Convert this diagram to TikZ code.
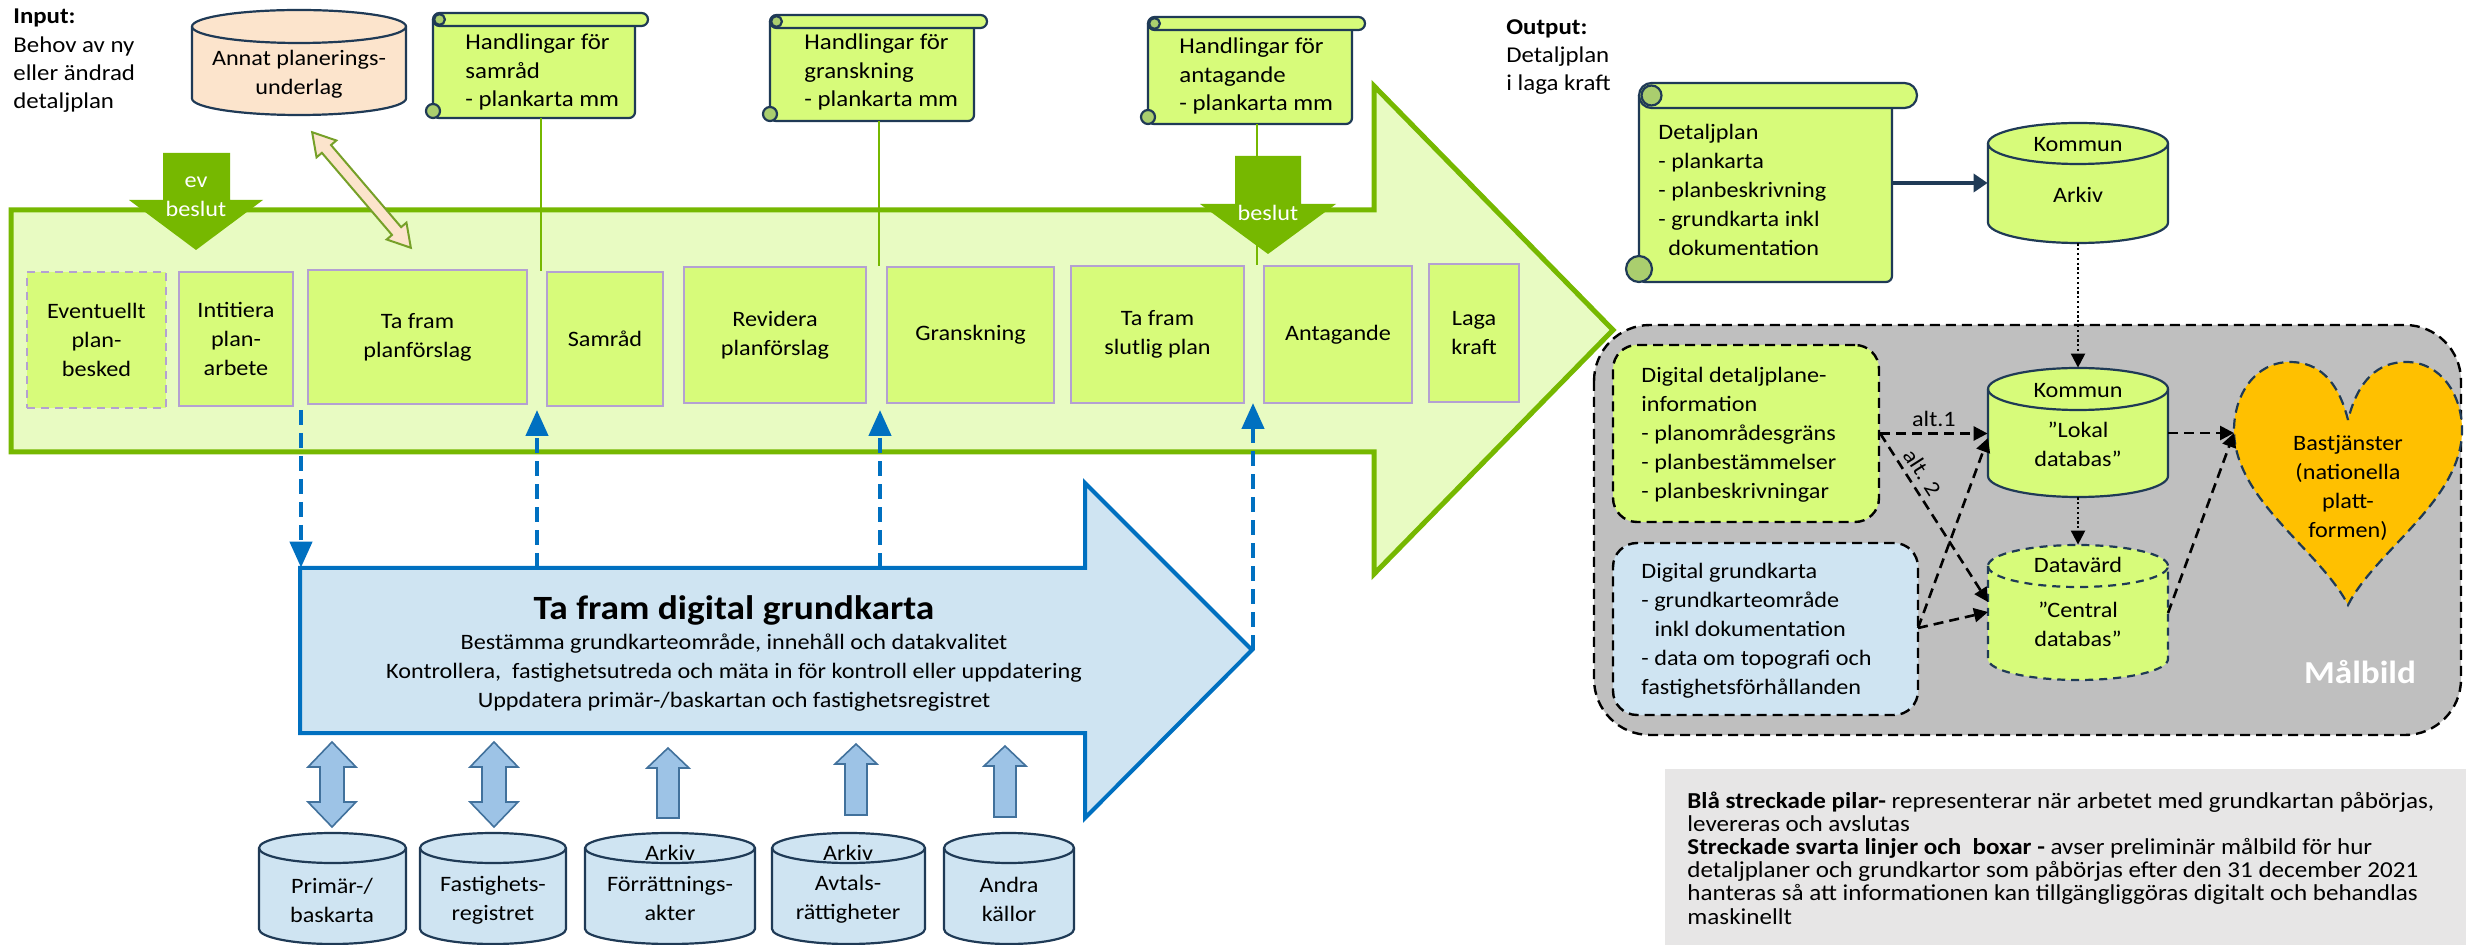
\documentclass[tikz,border=0pt]{standalone}
\usepackage{fontspec}
\setmainfont{Carlito}[FakeStretch=1.1]
\usetikzlibrary{arrows.meta}
\definecolor{cGreen}{RGB}{118,184,0}
\definecolor{cLight}{RGB}{232,251,194}
\definecolor{cLime}{RGB}{215,251,122}
\definecolor{cPurple}{RGB}{180,160,210}
\definecolor{cNavy}{RGB}{31,58,86}
\definecolor{cPeach}{RGB}{252,228,204}
\definecolor{cOlive}{RGB}{118,160,40}
\definecolor{cCurl}{RGB}{170,206,110}
\definecolor{cBlue}{RGB}{0,112,192}
\definecolor{cBlueLt}{RGB}{207,228,242}
\definecolor{cBlockF}{RGB}{157,195,230}
\definecolor{cBlockD}{RGB}{65,113,156}
\definecolor{cGray}{RGB}{191,191,191}
\definecolor{cOrange}{RGB}{255,192,0}
\definecolor{cLegend}{RGB}{231,230,230}

\newcommand\mycyl[7]{%
  \pgfmathsetmacro\cyrx{(#4-#2)/4}%
  \pgfmathsetmacro\cyry{#6/4}%
  \pgfmathsetmacro\cyyt{#3+#6/2}%
  \pgfmathsetmacro\cyyb{#5-#6/2}%
  \pgfmathsetmacro\cyw{(#4-#2)/2}%
  \pgfmathsetmacro\cyh{(#5-#3)/2}%
  \path[#7] (#2,\cyyt) -- (#2,\cyyb) arc[start angle=180,end angle=360,x radius=\cyrx pt,y radius=\cyry pt] -- (#4,\cyyt) arc[start angle=0,end angle=180,x radius=\cyrx pt,y radius=\cyry pt] -- cycle;
  \path[#7,fill=none] (#2,\cyyt) arc[start angle=180,end angle=360,x radius=\cyrx pt,y radius=\cyry pt];
  \node[inner sep=0pt,minimum width=\cyw pt,minimum height=\cyh pt] (#1) at ({(#2+#4)/2},{(#3+#5)/2}) {};
}
% name, x1, y1, x2, y2, bar height, curl radius (px)
\newcommand\myscroll[7]{%
  \pgfmathsetmacro\scrA{#3+#6/2}%
  \pgfmathsetmacro\scrB{#4-#6}%
  \pgfmathsetmacro\scrC{#5-#7}%
  \pgfmathsetmacro\scrR{#7/2}%
  \pgfmathsetmacro\scrQ{#6/4}%
  \pgfmathsetmacro\scrr{#7/2.6}%
  \pgfmathsetmacro\scrD{#2+#6/2}%
  \pgfmathsetmacro\scrW{(#4-#2)/2}%
  \pgfmathsetmacro\scrH{(#5-#3)/2}%
  \filldraw[scst,fill=cLime,rounded corners=3pt] (#2,\scrA) -- (#2,#5) -- (\scrB,#5) -- (\scrB,\scrA);
  \filldraw[scst,fill=cCurl] (#2,\scrC) circle[radius=\scrR pt];
  \filldraw[scst,fill=cLime,rounded corners=\scrQ pt] (#2,#3) rectangle (#4,{#3+#6});
  \filldraw[scst,fill=cCurl] (\scrD,\scrA) circle[radius=\scrr pt];
  \node[inner sep=0pt,minimum width=\scrW pt,minimum height=\scrH pt] (#1) at ({(#2+#4)/2},{(#3+#5)/2}) {};
}

\begin{document}
\begin{tikzpicture}[x=0.5pt,y=-0.5pt,
  t/.style={font=\fontsize{11}{14.5}\selectfont, inner sep=0pt, align=center},
  tl/.style={t, align=left, anchor=west},
  pbox/.style={t, draw=cPurple, fill=cLime, line width=1.3pt},
  cylst/.style={draw=cNavy, fill=cLime, line width=1.1pt},
  cylblue/.style={draw=cNavy, fill=cBlueLt, line width=1.1pt},
  scst/.style={draw=cNavy, line width=1.1pt},
  bdash/.style={draw=cBlue, line width=2.2pt, dash pattern=on 7.5pt off 4pt, -{Triangle[length=13pt,width=11pt]}},
  kdash/.style={draw=black, line width=1.3pt, dash pattern=on 5pt off 3pt, -{Triangle[length=7pt,width=7pt]}},
  kdot/.style={draw=black, line width=1.1pt, dash pattern=on 1.1pt off 1.3pt, -{Triangle[length=7pt,width=7pt]}},
  blockarr/.style={fill=cBlockF, draw=cBlockD, line width=0.8pt, line join=miter},
  gline/.style={draw=cGreen, line width=1pt},
  dbox/.style={draw=black, line width=1.2pt, dash pattern=on 5pt off 3pt, rounded corners=12pt, inner sep=0pt},
]
\fill[white] (0,0) rectangle (2466,945);
\useasboundingbox (0,0) rectangle (2466,945);

% ---------- input / output texts
\node[tl, font=\fontsize{11.3}{14.2}\selectfont] (input) at (13,61) {\textbf{Input:}\\Behov av ny\\eller ändrad\\detaljplan};
\node[tl, font=\fontsize{11.3}{14.2}\selectfont] (output) at (1506,57) {\textbf{Output:}\\Detaljplan\\i laga kraft};

% ---------- big green arrow
\draw[draw=cGreen, fill=cLight, line width=2.5pt, miter limit=10] (11,210) -- (1374,210) -- (1374,86) -- (1613,330) -- (1374,574) -- (1374,452) -- (11,452) -- cycle;

% ---------- top cylinder
\mycyl{annat}{192}{10}{406}{115}{33}{draw=cNavy, fill=cPeach, line width=1.1pt}
\node[t] (annatt) at (299,74) {Annat planerings-\\underlag};

% ---------- scrolls
\myscroll{s1}{433}{13}{648}{118}{13}{7}
\myscroll{s2}{770}{15}{987}{121}{13}{7}
\myscroll{s3}{1148}{17}{1365}{124}{13}{7}
\node[tl, font=\fontsize{11.3}{14.3}\selectfont] (s1t) at (465,72) {Handlingar för\\samråd\\- plankarta mm};
\node[tl, font=\fontsize{11.3}{14.3}\selectfont] (s2t) at (804,72) {Handlingar för\\granskning\\- plankarta mm};
\node[tl, font=\fontsize{11.3}{14.3}\selectfont] (s3t) at (1179,76) {Handlingar för\\antagande\\- plankarta mm};

% ---------- process boxes
\node[pbox, dash pattern=on 4pt off 3pt, minimum width=69.5pt, minimum height=68pt] (b1) at (96.5,340) {Eventuellt\\plan-\\besked};
\node[pbox, minimum width=57pt, minimum height=67pt] (b2) at (236,339) {Intitiera\\plan-\\arbete};
\node[pbox, minimum width=109.5pt, minimum height=67pt] (b3) at (417.5,337) {Ta fram\\planförslag};
\node[pbox, minimum width=58pt, minimum height=67pt] (b4) at (605,339) {Samråd};
\node[pbox, minimum width=91pt, minimum height=68pt] (b5) at (775,335) {Revidera\\planförslag};
\node[pbox, minimum width=83.5pt, minimum height=68pt] (b6) at (970.5,335) {Granskning};
\node[pbox, minimum width=86.5pt, minimum height=68.5pt] (b7) at (1157.5,334.5) {Ta fram\\slutlig plan};
\node[pbox, minimum width=74pt, minimum height=68.5pt] (b8) at (1338,334.5) {Antagande};
\node[pbox, minimum width=45pt, minimum height=69pt] (b9) at (1474,333) {Laga\\kraft};

% green lines from scrolls
\draw[gline] (s1.south) -- (s1.south |- b4.north);
\draw[gline] (s2.south) -- (s2.south |- b6.north);
\draw[gline] (s3.south) -- (s3.south |- b8.north);

% peach double arrow
\begin{scope}[shift={(361.5,190)}, rotate=-49.5]
\filldraw[fill=cPeach, draw=cOlive, line width=1pt, line join=miter] (-76,0) -- (-54,-13) -- (-54,-6) -- (54,-6) -- (54,-13) -- (76,0) -- (54,13) -- (54,6) -- (-54,6) -- (-54,13) -- cycle;
\end{scope}

% decision arrows
\fill[cGreen] (163,153) -- (230,153) -- (230,200) -- (263,200) -- (196,250) -- (129,200) -- (163,200) -- cycle;
\node[t, text=white] (evb) at (196,197) {ev\\beslut};
\fill[cGreen] (1235,156) -- (1301,156) -- (1301,204) -- (1336,204) -- (1268,254) -- (1200,204) -- (1235,204) -- cycle;
\node[t, text=white] (bes) at (1268,213) {beslut};

% ---------- big blue arrow
\draw[draw=cBlue, fill=cBlueLt, line width=2pt, miter limit=10] (300,568) -- (1085,568) -- (1085,483) -- (1252,650) -- (1085,818) -- (1085,733) -- (300,733) -- cycle;
\node[minimum width=392.5pt, minimum height=82.5pt, inner sep=0pt] (gk) at (692.5,650.5) {};
\node[font=\fontsize{17}{20}\selectfont\bfseries, inner sep=0pt] (gkt) at (734,610) {Ta fram digital grundkarta};
\node[t] (gkl) at (734,673) {Bestämma grundkarteområde, innehåll och datakvalitet\\Kontrollera,\ \ fastighetsutreda och mäta in för kontroll eller uppdatering\\Uppdatera primär-/baskartan och fastighetsregistret};

% blue dashed arrows
\coordinate (d1) at (301,410);
\coordinate (u1) at (537,410);
\coordinate (u2) at (880,410);
\coordinate (u3) at (1253,403);
\coordinate (gktip) at (1253,650);
\draw[bdash] (d1) -- (d1 |- gk.north);
\draw[bdash] (u1 |- gk.north) -- (u1);
\draw[bdash] (u2 |- gk.north) -- (u2);
\draw[bdash] (gktip) -- (u3);

% ---------- block arrows to sources
\foreach \c in {332,494}{
  \filldraw[blockarr] (\c,742) -- (\c+24,767) -- (\c+12,767) -- (\c+12,802) -- (\c+24,802) -- (\c,827) -- (\c-24,802) -- (\c-12,802) -- (\c-12,767) -- (\c-24,767) -- cycle;
}
\foreach \c/\tp/\bt in {668/748/818, 856/744/815, 1005/746/817}{
  \filldraw[blockarr] (\c,\tp) -- (\c+21,\tp+20) -- (\c+11,\tp+20) -- (\c+11,\bt) -- (\c-11,\bt) -- (\c-11,\tp+20) -- (\c-21,\tp+20) -- cycle;
}

% ---------- source cylinders
\mycyl{c1}{259}{833}{406}{944}{30}{cylblue}
\mycyl{c2}{420}{833}{566}{944}{30}{cylblue}
\mycyl{c3}{585}{833}{755}{944}{30}{cylblue}
\mycyl{c4}{772}{833}{925}{944}{30}{cylblue}
\mycyl{c5}{944}{833}{1074}{944}{30}{cylblue}
\node[t] (c1t) at (332,900) {Primär-/\\baskarta};
\node[t] (c2t) at (493,900) {Fastighets-\\registret};
\node[t] (c3h) at (670,853) {Arkiv};
\node[t] (c3t) at (670,899) {Förrättnings-\\akter};
\node[t] (c4h) at (848,853) {Arkiv};
\node[t] (c4t) at (848,899) {Avtals-\\rättigheter};
\node[t] (c5t) at (1009,899) {Andra\\källor};

% ---------- output scroll and archive
\myscroll{dp}{1639}{83}{1917}{282}{25}{13}
\node[tl] (dpt) at (1658,190) {Detaljplan\\- plankarta\\- planbeskrivning\\- grundkarta inkl\\\hspace*{0.45em}dokumentation};
\mycyl{arkiv}{1988}{123}{2168}{243}{41}{cylst}
\node[t] (arkk) at (2078,145) {Kommun};
\node[t] (arka) at (2078,195) {Arkiv};
\coordinate (dpout) at (1892,183);
\draw[draw=cNavy, line width=2pt, -{Triangle[length=7pt,width=9pt]}] (dpout) -- (dpout -| arkiv.west);

% ---------- Malbild region
\draw[draw=black, line width=1.2pt, dash pattern=on 5pt off 3pt, fill=cGray, rounded corners=28pt] (1594,325) rectangle (2461,735);
\node[dbox, fill=cLime, minimum width=133pt, minimum height=88.5pt] (dg) at (1746,433.5) {};
\node[tl] (dgt) at (1641,435) {Digital detaljplane-\\information\\- planområdesgräns\\- planbestämmelser\\- planbeskrivningar};
\node[dbox, fill=cBlueLt, minimum width=152.5pt, minimum height=86pt] (gb) at (1765.5,629) {};
\node[tl] (gbt) at (1641,631) {Digital grundkarta\\- grundkarteområde\\\hspace*{0.6em}inkl dokumentation\\- data om topografi och\\fastighetsförhållanden};
\mycyl{lok}{1988}{368}{2168}{497}{42}{cylst}
\node[t] (lokk) at (2078,391) {Kommun};
\node[t] (lokt) at (2078,444) {”Lokal\\databas”};
\mycyl{cen}{1988}{545}{2168}{680}{42}{cylst, dash pattern=on 4pt off 3pt}
\node[t] (cenk) at (2078,565) {Datavärd};
\node[t] (cent) at (2078,624) {”Central\\databas”};

% heart
\filldraw[fill=cOrange, draw=cNavy, line width=1.1pt, dash pattern=on 5pt off 3pt] (2348,420) .. controls (2338,380) and (2318,362) .. (2290,362) .. controls (2255,362) and (2234,395) .. (2234,430) .. controls (2234,500) and (2320,550) .. (2348,605) .. controls (2376,550) and (2462,500) .. (2462,430) .. controls (2462,395) and (2441,362) .. (2406,362) .. controls (2378,362) and (2358,380) .. (2348,420) -- cycle;
\node[t] (bast) at (2348,488) {Bastjänster\\(nationella\\platt-\\formen)};
\node[font=\fontsize{16}{18}\selectfont\bfseries, text=white, inner sep=0pt] (malb) at (2360,672) {Målbild};

% connectors
\coordinate (cenin1) at (1988,602);
\coordinate (lokin2) at (1988,438);
\coordinate (cenin2) at (1988,612);
\coordinate (gbout) at (1918,628);
\coordinate (heartin) at (2234,433);
\coordinate (lokout) at (2168,433);
\coordinate (cenout) at (2168,613);
\draw[kdash] (dg.east) -- node[t, above=3pt] (alt1) {alt.1} (dg.east -| lok.west);
\draw[kdash] (dg.east) -- node[t, sloped, pos=0.28, above=3pt] (alt2) {alt. 2} (cenin1);
\draw[kdash] (gbout) -- (lokin2);
\draw[kdash] (gbout) -- (cenin2);
\draw[kdash] (lokout) -- (heartin);
\draw[kdash] (cenout) -- (heartin);
\draw[kdot] (arkiv.south) -- (lok.north);
\draw[kdot] (lok.south) -- (cen.north);

% ---------- legend
\node[fill=cLegend, anchor=north west, minimum width=400.5pt, minimum height=88pt, inner sep=0pt] (legbox) at (1665,769) {};
\node[tl, font=\fontsize{11.4}{11.6}\selectfont] (leg) at (1687,858) {\textbf{Blå streckade pilar-} representerar när arbetet med grundkartan påbörjas,\\levereras och avslutas\\\textbf{Streckade svarta linjer och\ \ boxar -} avser preliminär målbild för hur\\detaljplaner och grundkartor som påbörjas efter den 31 december 2021\\hanteras så att informationen kan tillgängliggöras digitalt och behandlas\\maskinellt};
\end{tikzpicture}
\end{document}
